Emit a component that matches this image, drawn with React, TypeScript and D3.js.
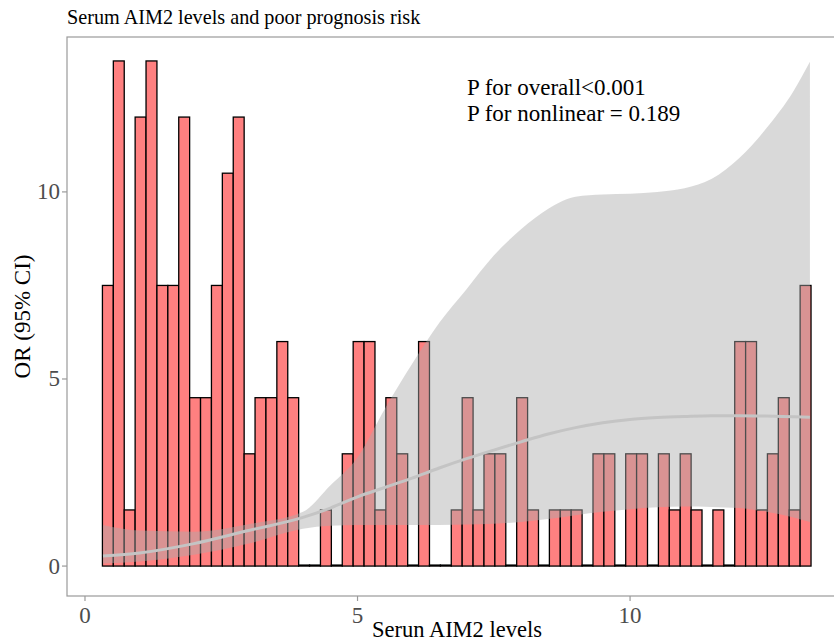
import * as d3 from 'd3';

// histogram of serum AIM2 (bin width 0.2, first bin at 0.32)
const binStart = 0.32;
const binWidth = 0.2;
const binValues = [
  7.5, 13.5, 1.5, 12, 13.5, 7.5, 7.5, 12, 4.5, 4.5,
  7.5, 10.5, 12, 3, 4.5, 4.5, 6, 4.5, 0, 0,
  1.5, 0, 3, 6, 6, 1.5, 4.5, 3, 0, 6,
  0, 0, 1.5, 4.5, 1.5, 3, 3, 0, 4.5, 1.5,
  0, 1.5, 1.5, 1.5, 0, 3, 3, 0, 3, 3,
  0, 3, 1.5, 3, 1.5, 0, 1.5, 0, 6, 6,
  1.5, 3, 4.5, 1.5, 7.5,
];

// spline OR curve with 95% CI
const splineX = [0.33, 1, 2, 3, 4, 4.5, 5, 5.5, 6, 6.5, 7, 7.5, 8, 8.5, 9, 9.5, 10, 10.5, 11, 11.5, 12, 12.5, 13, 13.3];
const orFit = [0.27, 0.35, 0.6, 0.95, 1.3, 1.55, 1.85, 2.1, 2.35, 2.62, 2.87, 3.1, 3.32, 3.53, 3.7, 3.83, 3.92, 3.97, 4.0, 4.02, 4.02, 4.01, 3.99, 3.98];
const orLower = [0.07, 0.12, 0.3, 0.6, 1.0, 1.08, 1.1, 1.1, 1.1, 1.1, 1.11, 1.13, 1.18, 1.26, 1.36, 1.45, 1.52, 1.57, 1.59, 1.58, 1.55, 1.45, 1.3, 1.18];
const orUpper = [1.1, 0.95, 0.92, 1.12, 1.45, 2.15, 2.9, 4.2, 5.4, 6.5, 7.4, 8.3, 9.0, 9.55, 9.87, 9.93, 9.95, 10.0, 10.1, 10.35, 10.9, 11.7, 12.7, 13.48];

const xTicks = [0, 5, 10];
const yTicks = [0, 5, 10];
const annotations = ['P for overall<0.001', 'P for nonlinear = 0.189'];

const width = 834;
const height = 643;
const panel = { left: 67, right: 847, top: 37, bottom: 596 };
const font = '"Liberation Serif", "Times New Roman", serif';

export default function App() {
  const x = d3.scaleLinear().domain([-0.33, 13.98]).range([panel.left, panel.right]);
  const y = d3.scaleLinear().domain([-0.8, 14.14]).range([panel.bottom, panel.top]);

  const curve = splineX.map((v, i) => ({ x: v, fit: orFit[i], lo: orLower[i], hi: orUpper[i] }));

  const ribbon = d3
    .area<{ x: number; lo: number; hi: number }>()
    .x((d) => x(d.x))
    .y0((d) => y(d.lo))
    .y1((d) => y(d.hi))
    .curve(d3.curveMonotoneX);

  const fitLine = d3
    .line<{ x: number; fit: number }>()
    .x((d) => x(d.x))
    .y((d) => y(d.fit))
    .curve(d3.curveMonotoneX);

  return (
    <svg width={width} height={height} style={{ position: 'absolute', left: 0, top: 0, background: '#fff' }}>
      <rect x={0} y={0} width={width} height={height} fill="#fff" />

      {/* title */}
      <text x={67} y={24} fontFamily={font} fontSize={20.2} fill="#000">
        Serum AIM2 levels and poor prognosis risk
      </text>

      {/* panel border */}
      <rect
        x={panel.left}
        y={panel.top}
        width={panel.right - panel.left}
        height={panel.bottom - panel.top}
        fill="none"
        stroke="#9a9a9a"
        strokeWidth={1.2}
      />

      {/* histogram bars */}
      {binValues.map((v, i) => {
        const x0 = x(binStart + i * binWidth);
        const x1 = x(binStart + (i + 1) * binWidth);
        const h = Math.max(y(0) - y(v), 1);
        return (
          <rect
            key={i}
            x={x0}
            y={y(0) - h}
            width={x1 - x0}
            height={h}
            fill="#ff8080"
            stroke="#000"
            strokeWidth={1.3}
          />
        );
      })}

      {/* 95% CI ribbon */}
      <path d={ribbon(curve) || ''} fill="#aaaaaa" fillOpacity={0.45} stroke="none" />

      {/* fitted OR line */}
      <path d={fitLine(curve) || ''} fill="none" stroke="#c4c4c4" strokeWidth={3} />

      {/* annotation */}
      {annotations.map((t, i) => (
        <text key={t} x={467} y={95 + i * 26} fontFamily={font} fontSize={23} fill="#000">
          {t}
        </text>
      ))}

      {/* y axis */}
      {yTicks.map((t) => (
        <g key={t}>
          <line x1={panel.left - 5} x2={panel.left} y1={y(t)} y2={y(t)} stroke="#9a9a9a" strokeWidth={1.2} />
          <text
            x={panel.left - 7}
            y={y(t)}
            textAnchor="end"
            dominantBaseline="central"
            fontFamily={font}
            fontSize={23}
            fill="#4d4d4d"
          >
            {t}
          </text>
        </g>
      ))}

      {/* x axis */}
      {xTicks.map((t) => (
        <g key={t}>
          <line x1={x(t)} x2={x(t)} y1={panel.bottom} y2={panel.bottom + 5} stroke="#9a9a9a" strokeWidth={1.2} />
          <text
            x={x(t)}
            y={panel.bottom + 19}
            textAnchor="middle"
            dominantBaseline="central"
            fontFamily={font}
            fontSize={23}
            fill="#4d4d4d"
          >
            {t}
          </text>
        </g>
      ))}

      {/* axis titles */}
      <text x={457} y={637} textAnchor="middle" fontFamily={font} fontSize={22.5} fill="#000">
        Serun AIM2 levels
      </text>
      <text
        transform={`translate(30, ${(panel.top + panel.bottom) / 2}) rotate(-90)`}
        textAnchor="middle"
        fontFamily={font}
        fontSize={23}
        fill="#000"
      >
        OR (95% CI)
      </text>
    </svg>
  );
}
